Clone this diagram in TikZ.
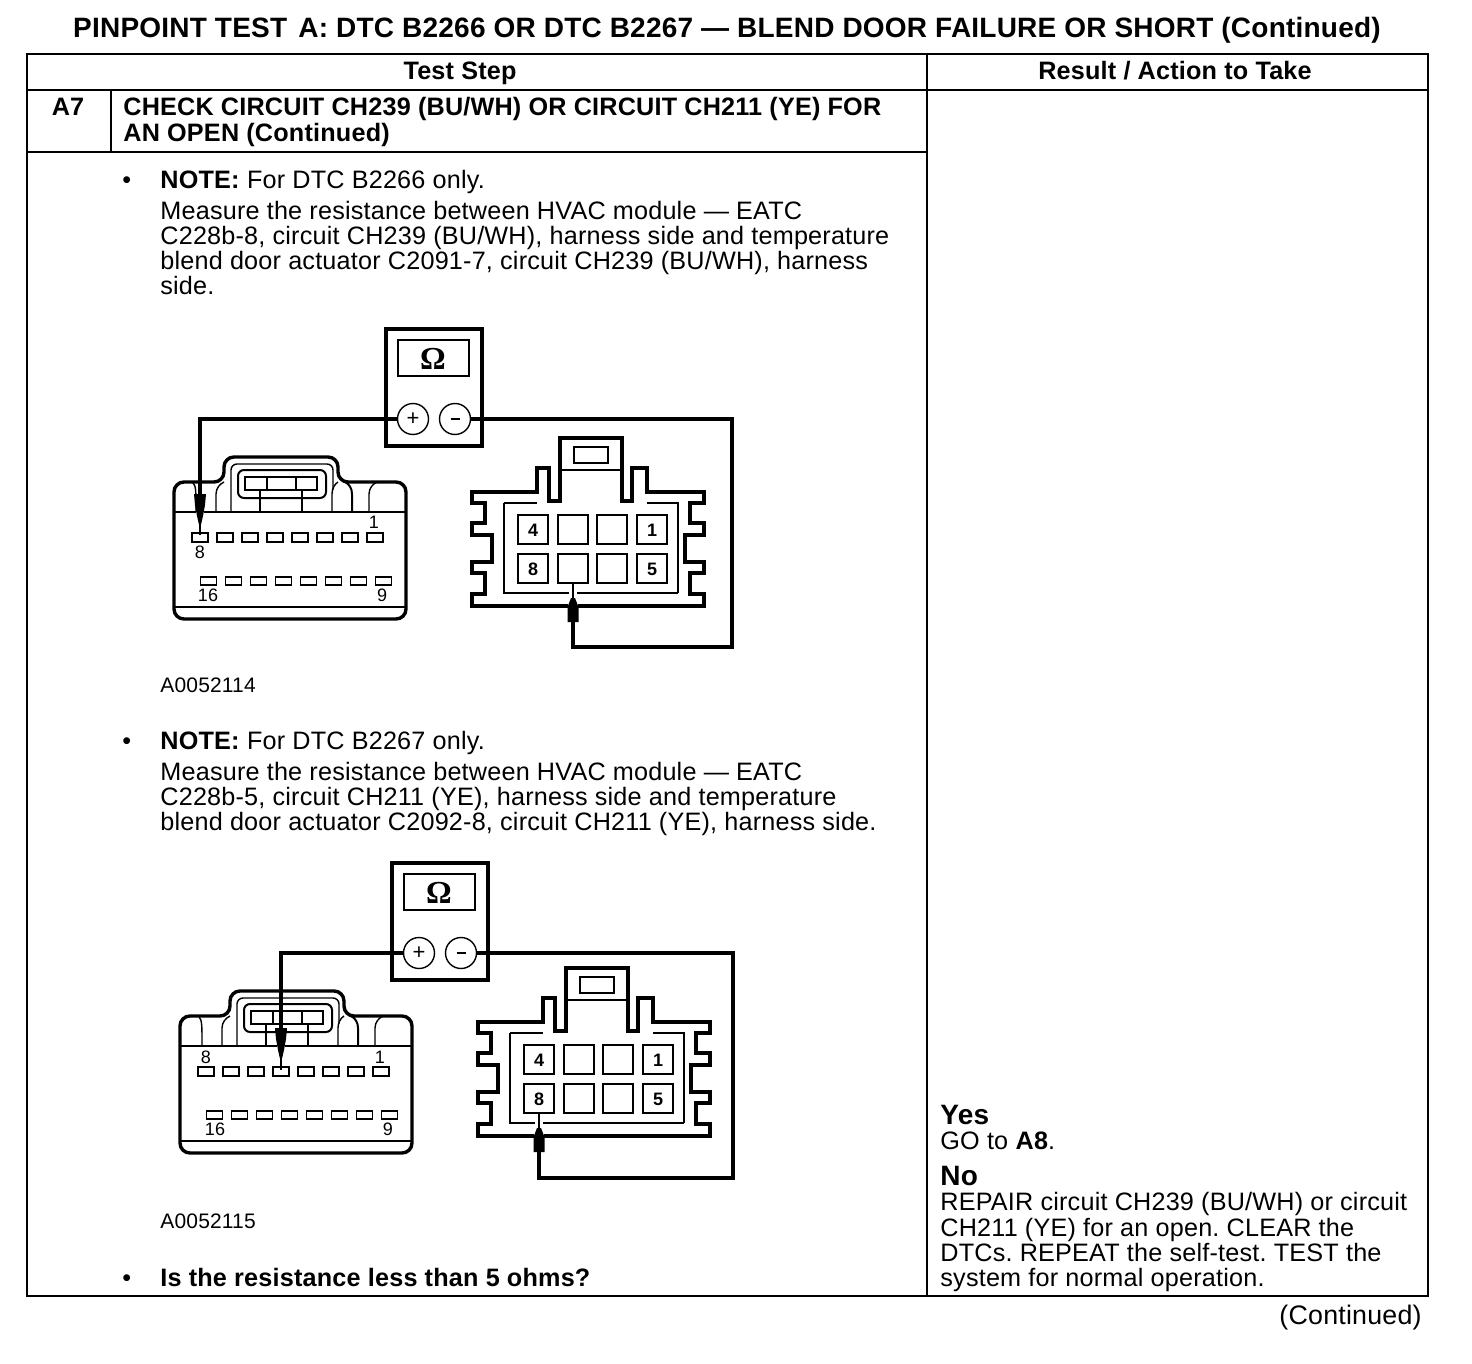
\documentclass[tikz,border=0pt]{standalone}
\usepackage{fontspec}
\setmainfont[LetterSpace=0.8]{Liberation Sans}
\newfontfamily\omf{Liberation Serif}
\newcommand{\bodyf}{\fontsize{12.6}{14}\selectfont}
\newcommand{\smallf}{\fontsize{9}{10}\selectfont}
\newcommand{\capf}{\fontsize{10.5}{12}\selectfont}
\tikzset{
 lt/.style={anchor=base west,inner sep=0pt,font=\bodyf},
 rt/.style={anchor=base east,inner sep=0pt,font=\bodyf},
 ct/.style={anchor=base,inner sep=0pt,font=\bodyf\bfseries},
 yn/.style={anchor=base west,inner sep=0pt,font=\fontsize{14}{16}\selectfont\bfseries},
 capt/.style={anchor=base west,inner sep=0pt,font=\capf},
 pinlab/.style={inner sep=0pt,font=\smallf},
 rule/.style={line width=1.1pt},
 thick3/.style={line width=1.7pt},
 thin3/.style={line width=.7pt},
 wire/.style={line width=1.7pt},
 term/.style={circle,draw,line width=.7pt,minimum size=15.5pt,inner sep=0pt,fill=white,font=\fontsize{11}{11}\selectfont},
}
% connector with the flat pin rows (drawn relative to the first diagram)
\newcommand{\connA}{%
 \draw[thick3,rounded corners=5pt] (224,482) -- (224,457) -- (338,457) -- (338,482) -- (406,482) -- (406,619) -- (174,619) -- (174,482) -- cycle;
 \draw[thin3,rounded corners=3pt] (231,512) -- (231,464) -- (333,464) -- (333,490);
 \draw[line width=1pt,rounded corners=3pt] (238,470) rectangle (326,498);
 \draw[line width=1.2pt] (245,477) rectangle (317,490);
 \draw[thin3] (267,477) -- (267,490) (296,477) -- (296,490) (260,490) -- (260,512) (302,490) -- (302,512);
 \draw[line width=1.2pt] (174,512) -- (406,512);
 \draw[line width=1.2pt] (174,607) -- (406,607);
 \draw[thin3] (193,483) .. controls (196,486) and (196,490) .. (196,512);
 \draw[thin3] (216,512) -- (216,494) .. controls (216,488) and (220,484) .. (224,482);
 \draw[thin3] (332,512) -- (332,494) .. controls (332,488) and (335,484) .. (338,482);
 \draw[line width=1pt] (352,512) -- (352,494) .. controls (352,488) and (349,484) .. (345,482);
 \draw[thin3] (369,512) -- (369,494) .. controls (369,488) and (373,484) .. (377,482);
 \foreach \i in {0,...,7} {
  \draw[line width=.9pt] ({192+25*\i},533) rectangle ++(16,9);
  \draw[line width=.9pt] ({200.5+25*\i},577) rectangle ++(16,8);
 }
}
% connector with the eight square cavities
\newcommand{\connB}[1]{%
 \draw[line width=1.7pt] (#1-5,606) -- (472,606) -- (472,594) -- (485,594) -- (485,573) -- (472,573) -- (472,562) -- (492,562) -- (492,535) -- (472,535) -- (472,523) -- (485,523) -- (485,503) -- (472,503) -- (472,492) -- (537,492) -- (537,468) -- (549,468) -- (549,501) -- (560,501) -- (560,438) -- (622,438) -- (622,501) -- (632,501) -- (632,468) -- (647,468) -- (647,492) -- (704,492) -- (704,503) -- (690,503) -- (690,523) -- (704,523) -- (704,535) -- (685,535) -- (685,562) -- (704,562) -- (704,573) -- (690,573) -- (690,594) -- (704,594) -- (704,606) -- (#1+5,606);
 \draw[line width=1pt] (574,447) rectangle (608,463);
 \draw[thin3] (560,470) -- (622,470);
 \draw[thin3] (537,503) -- (504,503) (647,503) -- (678,503) -- (678,593);
 \draw[line width=1.2pt] (504,503) -- (504,593) -- (#1-4,593);
 \draw[line width=1.2pt] (#1+4,593) -- (678,593);
 \foreach \xx in {518,558,597,637} {
  \draw[line width=1pt] (\xx,515) rectangle ++(30,29);
  \draw[line width=1pt] (\xx,554) rectangle ++(30,29);
 }
 \node[pinlab,font=\smallf\bfseries] (#1n4) at (533,530) {4};
 \node[pinlab,font=\smallf\bfseries] (#1n1) at (652,530) {1};
 \node[pinlab,font=\smallf\bfseries] (#1n8) at (533,569) {8};
 \node[pinlab,font=\smallf\bfseries] (#1n5) at (652,569) {5};
}
% meter body, drawn relative to the first diagram
\newcommand{\meter}[1]{%
 \draw[line width=1.9pt] (386,329) rectangle (482,446);
 \draw[line width=1pt] (398,340) rectangle (469,376);
 \node[inner sep=0pt,font=\omf\bfseries\fontsize{16}{17}\selectfont] (om#1) at (433,359) {Ω};
 \node[term] (plus#1) at (413,419) {+};
 \node[term] (minus#1) at (455,419) {\rule{4.5pt}{.8pt}};
}
\newcommand{\probeDown}[2]{%
 \draw[white,line width=4pt] (#1,508) -- (#1,516);
 \fill (#1-6,494) -- (#1+6,494) -- (#1+5,505) -- (#1+3,516) -- (#1+1.2,524) -- (#1-1.2,524) -- (#1-3,516) -- (#1-5,505) -- cycle;
 \draw[line width=.8pt] (#1,524) -- (#1,#2);
 \coordinate (ptop#1) at (#1,494);
}
\newcommand{\probeUp}[1]{%
 \fill (#1-5.5,622) -- (#1+5.5,622) -- (#1+5.5,607) -- (#1+2,598) -- (#1-2,598) -- (#1-5.5,607) -- cycle;
 \draw[line width=1pt] (#1,598) -- (#1,582);
 \coordinate (pbot#1) at (#1,622);
}
\begin{document}
\frenchspacing
\begin{tikzpicture}[x=0.5pt,y=-0.5pt]
\useasboundingbox (0,0) rectangle (1472,1364);
% title
\node[ct,font=\fontsize{14}{15}\selectfont\bfseries] (title) at (727,38) {PINPOINT TEST\hspace{.4em}A: DTC B2266 OR DTC B2267 --- BLEND DOOR FAILURE OR SHORT (Continued)};
% table
\draw[rule] (27,54) rectangle (1428,1296);
\draw[rule] (27,90) -- (1428,90);
\draw[rule] (927,54) -- (927,1296);
\draw[rule] (111,90) -- (111,152);
\draw[rule] (27,152) -- (927,152);
\node[ct] (h1) at (460,80) {Test Step};
\node[ct] (h2) at (1175,80) {Result / Action to Take};
\node[ct] (a7) at (68,116) {A7};
\node[lt,font=\bodyf\bfseries] (c1) at (123,116) {CHECK CIRCUIT CH239 (BU/WH) OR CIRCUIT CH211 (YE) FOR};
\node[lt,font=\bodyf\bfseries] (c2) at (123,142) {AN OPEN (Continued)};
% first step
\node[lt] (b1) at (122,189) {•};
\node[lt] (t1) at (160,189) {\textbf{NOTE:} For DTC B2266 only.};
\node[lt] (t2) at (160,220) {Measure the resistance between HVAC module --- EATC};
\node[lt] (t3) at (160,245) {C228b-8, circuit CH239 (BU/WH), harness side and temperature};
\node[lt] (t4) at (160,270) {blend door actuator C2091-7, circuit CH239 (BU/WH), harness};
\node[lt] (t5) at (160,294) {side.};
% first diagram
\connA
\connB{573}
\meter{a}
\node[pinlab] (a1) at (374,522) {1};
\node[pinlab] (a8) at (200,552) {8};
\node[pinlab] (a16) at (208,595) {16};
\node[pinlab] (a9) at (382,595) {9};
\probeDown{200}{535}
\probeUp{573}
\draw[wire] (plusa.west) -| (ptop200);
\coordinate (wa) at (732,647);
\draw[wire] (minusa.east) -| (wa) -| (pbot573);
\node[capt] (ca) at (160,692) {A0052114};
% second step
\node[lt] (b2) at (122,749) {•};
\node[lt] (u1) at (160,749) {\textbf{NOTE:} For DTC B2267 only.};
\node[lt] (u2) at (160,780) {Measure the resistance between HVAC module --- EATC};
\node[lt] (u3) at (160,805) {C228b-5, circuit CH211 (YE), harness side and temperature};
\node[lt] (u4) at (160,830) {blend door actuator C2092-8, circuit CH211 (YE), harness side.};
% second diagram
\begin{scope}[shift={(6,534)}]
\connA
\meter{b}
\node[pinlab] (b8) at (200,523) {8};
\node[pinlab] (b1n) at (374,523) {1};
\node[pinlab] (b16) at (209,595) {16};
\node[pinlab] (b9) at (382,595) {9};
\probeDown{275}{536}
\end{scope}
\begin{scope}[shift={(6,530)}]
\connB{533}
\probeUp{533}
\end{scope}
\draw[wire] (plusb.west) -| (ptop275);
\coordinate (wb) at (733,1178);
\draw[wire] (minusb.east) -| (wb) -| (pbot533);
\node[capt] (cb) at (160,1228) {A0052115};
\node[lt] (b3) at (122,1286) {•};
\node[lt] (q) at (160,1286) {\textbf{Is the resistance less than 5 ohms?}};
% right column
\node[yn] (yes) at (940,1124) {Yes};
\node[lt] (r1) at (940,1149) {GO to \textbf{A8}.};
\node[yn] (no) at (940,1185) {No};
\node[lt] (r2) at (940,1210) {REPAIR circuit CH239 (BU/WH) or circuit};
\node[lt] (r3) at (940,1236) {CH211 (YE) for an open. CLEAR the};
\node[lt] (r4) at (940,1261) {DTCs. REPEAT the self-test. TEST the};
\node[lt] (r5) at (940,1286) {system for normal operation.};
\node[rt,font=\fontsize{13.4}{15}\selectfont] (cont) at (1422,1324) {(Continued)};
\end{tikzpicture}
\end{document}
